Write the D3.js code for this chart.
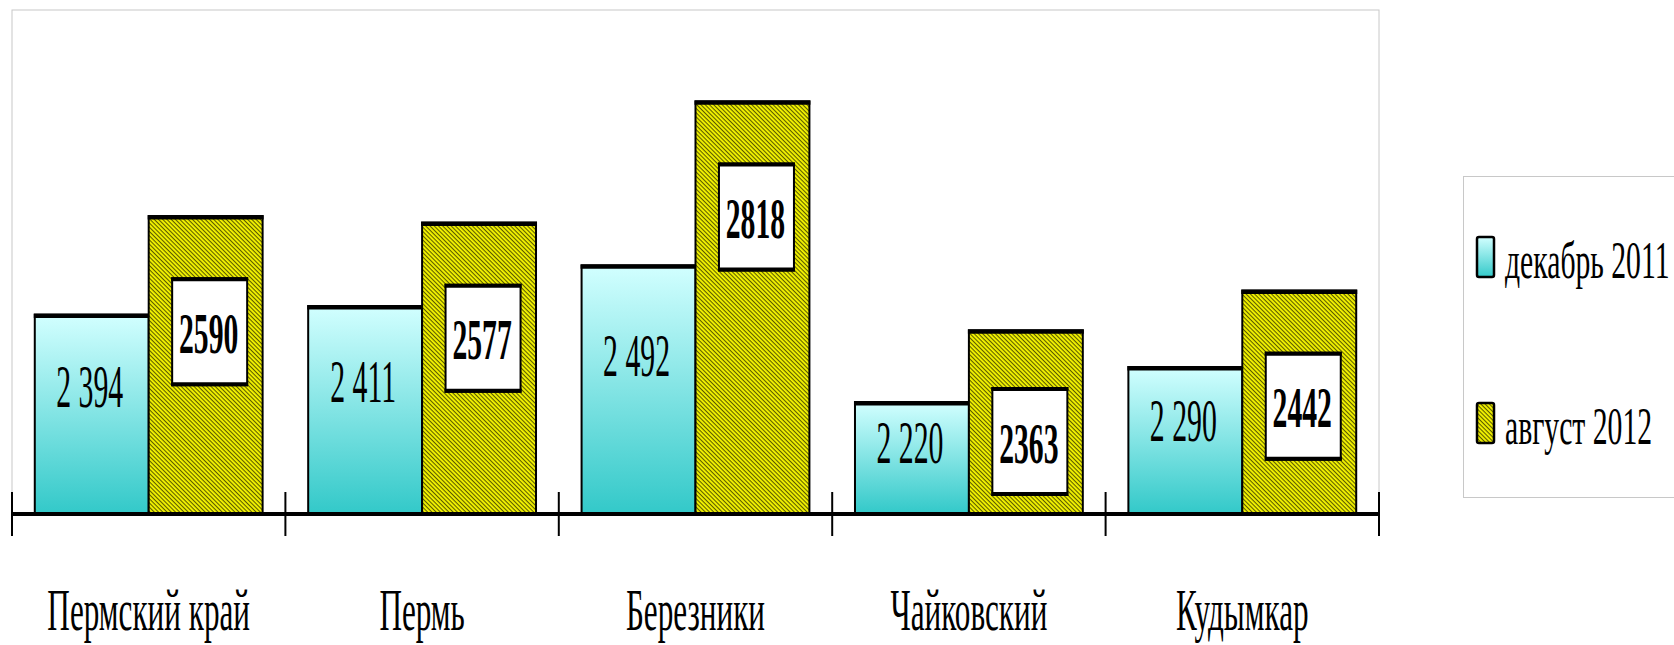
<!DOCTYPE html>
<html>
<head>
    <meta charset="utf-8">
    <title>Пермский край</title>
    <script src="https://d3js.org/d3.v7.min.js"></script>
    <style>
        body { margin: 0; background: #fff; }
        svg { display: block; }
        text { font-family: "Liberation Serif", "Times New Roman", serif; fill: #000; }
    </style>
</head>
<body>
    <svg id="chart"></svg>
    <script>
        // data
        const categories = ["Пермский край", "Пермь", "Березники", "Чайковский", "Кудымкар"];
        const seriesNames = ["декабрь 2011", "август 2012"];
        const dec2011 = [2394, 2411, 2492, 2220, 2290];
        const aug2012 = [2590, 2577, 2818, 2363, 2442];
        const yDomain = [2000, 3000];

        const width = 1674;
        const height = 645;
        const plot = { left: 12, right: 1379, top: 10, bottom: 513 };

        const svg = d3.select("#chart")
            .attr("width", width)
            .attr("height", height);

        const defs = svg.append("defs");

        // cyan gradient
        const grad = defs.append("linearGradient")
            .attr("id", "cyanGrad")
            .attr("x1", 0).attr("y1", 0).attr("x2", 0).attr("y2", 1);
        grad.append("stop").attr("offset", "0%").attr("stop-color", "#d2ffff");
        grad.append("stop").attr("offset", "100%").attr("stop-color", "#33c9c9");

        // yellow hatch
        const pat = defs.append("pattern")
            .attr("id", "hatch")
            .attr("patternUnits", "userSpaceOnUse")
            .attr("width", 3).attr("height", 3)
            .attr("patternTransform", "rotate(45)");
        pat.append("rect").attr("width", 3).attr("height", 3).attr("fill", "#f5f500");
        pat.append("rect").attr("width", 3).attr("height", 1.1).attr("fill", "#5a5a00");

        const fills = ["url(#cyanGrad)", "url(#hatch)"];

        // scales
        const x = d3.scaleBand()
            .domain(categories)
            .range([plot.left, plot.right])
            .padding(0);

        const xInner = d3.scaleBand()
            .domain(seriesNames)
            .range([0, x.bandwidth()])
            .paddingInner(0)
            .paddingOuter(0.2);

        const y = d3.scaleLinear()
            .domain(yDomain)
            .range([plot.bottom, plot.top]);

        const fmtSpace = d3.formatLocale({ decimal: ",", thousands: " ", grouping: [3], currency: ["", ""] }).format(",d");

        // plot frame
        svg.append("rect")
            .attr("x", plot.left)
            .attr("y", plot.top)
            .attr("width", plot.right - plot.left)
            .attr("height", plot.bottom - plot.top)
            .attr("fill", "none")
            .attr("stroke", "#c8c8c8")
            .attr("stroke-width", 1);

        const rows = categories.map((c, i) => ({ cat: c, values: [dec2011[i], aug2012[i]] }));

        const groups = svg.selectAll(".grp")
            .data(rows)
            .enter()
            .append("g")
            .attr("class", "grp")
            .attr("transform", d => `translate(${x(d.cat)},0)`);

        groups.each(function(d) {
            const g = d3.select(this);
            d.values.forEach((v, s) => {
                const bx = xInner(seriesNames[s]);
                const bw = xInner.bandwidth();
                const top = y(v);
                g.append("rect")
                    .attr("x", bx)
                    .attr("y", top)
                    .attr("width", bw)
                    .attr("height", plot.bottom - top)
                    .attr("fill", fills[s])
                    .attr("stroke", "#000")
                    .attr("stroke-width", 2);
                // thick top edge
                g.append("line")
                    .attr("x1", bx - 1).attr("x2", bx + bw + 1)
                    .attr("y1", top + 1).attr("y2", top + 1)
                    .attr("stroke", "#000")
                    .attr("stroke-width", 4.5);
            });
        });

        // labels for december (plain, inside cyan bars)
        groups.append("text")
            .attr("text-anchor", "middle")
            .attr("font-size", 62)
            .attr("transform", d => {
                const cx = xInner(seriesNames[0]) + xInner.bandwidth() / 2 - 2;
                const h = plot.bottom - y(d.values[0]);
                const cy = plot.bottom - h * 0.64 + 21;
                return `translate(${cx},${cy}) scale(0.48,1)`;
            })
            .text(d => fmtSpace(d.values[0]));

        // labels for august (bold, in white box)
        const boxW = 75, boxH = 107;
        groups.each(function(d) {
            const g = d3.select(this);
            const cx = xInner(seriesNames[1]) + xInner.bandwidth() / 2 + 4;
            const top = Math.min(y(d.values[1]) + 62, plot.bottom - 18 - boxH);
            g.append("rect")
                .attr("x", cx - boxW / 2)
                .attr("y", top)
                .attr("width", boxW)
                .attr("height", boxH)
                .attr("fill", "#fff")
                .attr("stroke", "#000")
                .attr("stroke-width", 2);
            g.append("line")
                .attr("x1", cx - boxW / 2 - 1).attr("x2", cx + boxW / 2 + 1)
                .attr("y1", top + 1).attr("y2", top + 1)
                .attr("stroke", "#000").attr("stroke-width", 4);
            g.append("line")
                .attr("x1", cx - boxW / 2 - 1).attr("x2", cx + boxW / 2 + 1)
                .attr("y1", top + boxH - 1).attr("y2", top + boxH - 1)
                .attr("stroke", "#000").attr("stroke-width", 4);
            g.append("text")
                .attr("text-anchor", "middle")
                .attr("font-size", 56)
                .attr("font-weight", "bold")
                .attr("transform", `translate(${cx - 1},${top + boxH / 2 + 21}) scale(0.53,1)`)
                .text(d.values[1]);
        });

        // x axis
        svg.append("line")
            .attr("x1", plot.left).attr("x2", plot.right + 1)
            .attr("y1", plot.bottom + 1).attr("y2", plot.bottom + 1)
            .attr("stroke", "#000")
            .attr("stroke-width", 4);

        const tickPos = categories.map(c => x(c)).concat([x.range()[1]]);
        svg.selectAll(".tick")
            .data(tickPos)
            .enter()
            .append("line")
            .attr("class", "tick")
            .attr("x1", d => d).attr("x2", d => d)
            .attr("y1", plot.bottom - 21)
            .attr("y2", plot.bottom + 23)
            .attr("stroke", "#000")
            .attr("stroke-width", 2);

        svg.selectAll(".xlabel")
            .data(categories)
            .enter()
            .append("text")
            .attr("class", "xlabel")
            .attr("text-anchor", "middle")
            .attr("font-size", 60)
            .attr("transform", d => `translate(${x(d) + x.bandwidth() / 2},630) scale(0.52,1)`)
            .text(d => d);

        // legend
        const legend = svg.append("g");
        legend.append("rect")
            .attr("x", 1463.5)
            .attr("y", 176.5)
            .attr("width", 260)
            .attr("height", 321)
            .attr("fill", "#fff")
            .attr("stroke", "#c8c8c8")
            .attr("stroke-width", 1);

        const legendY = [278, 444];
        seriesNames.forEach((name, i) => {
            legend.append("rect")
                .attr("x", 1477)
                .attr("y", legendY[i] - 41)
                .attr("width", 17)
                .attr("height", 40)
                .attr("rx", 2)
                .attr("fill", fills[i])
                .attr("stroke", "#000")
                .attr("stroke-width", 2.5);
            legend.append("text")
                .attr("font-size", 53)
                .attr("transform", `translate(1505,${legendY[i]}) scale(0.56,1)`)
                .text(name);
        });
    </script>
</body>
</html>
